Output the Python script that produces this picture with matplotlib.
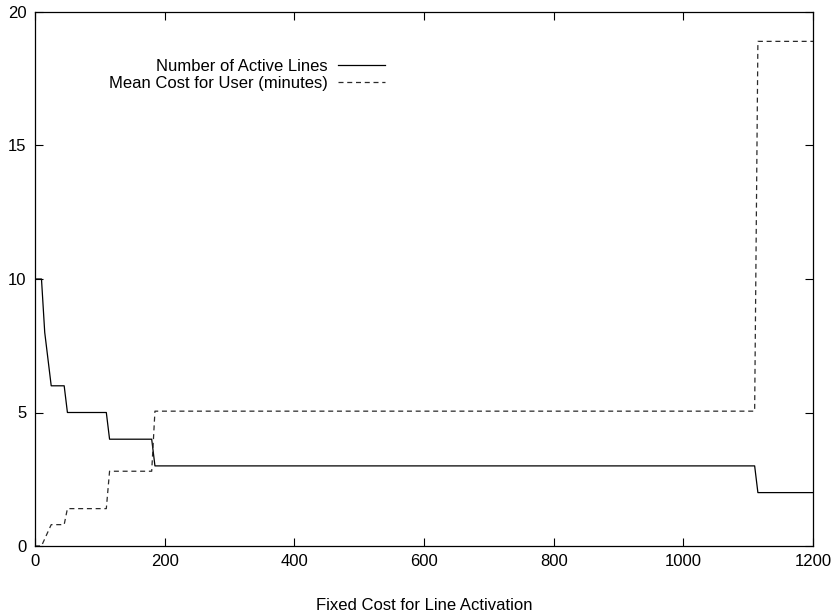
import numpy as np
import matplotlib
matplotlib.use("Agg")
import matplotlib.pyplot as plt

plt.rcParams["font.family"] = ["Liberation Sans", "DejaVu Sans"]

# fixed cost values and the two step series
cost_lines = [0, 10, 15, 25, 45, 50, 110, 115, 180, 185, 1110, 1115, 1200]
active_lines = [10, 10, 8, 6, 6, 5, 5, 4, 4, 3, 3, 2, 2]

cost_user = [0, 10, 25, 45, 50, 110, 115, 180, 185, 1110, 1115, 1200]
mean_cost = [0, 0, 0.8, 0.8, 1.4, 1.4, 2.8, 2.8, 5.05, 5.05, 18.9, 18.9]

fig = plt.figure(figsize=(8.35, 6.15), dpi=100)
ax = fig.add_axes([35 / 835, 1 - 546 / 615, 778 / 835, 534 / 615])

ax.plot(cost_lines, active_lines, color="black", lw=0.9, label="Number of Active Lines")
ax.plot(cost_user, mean_cost, color="#2a2a2a", lw=0.9, linestyle=(0, (4, 3)),
        label="Mean Cost for User (minutes)")

ax.set_xlim(0, 1200)
ax.set_ylim(0, 20)
ax.set_xticks(np.arange(0, 1201, 200))
ax.set_yticks(np.arange(0, 21, 5))
ax.tick_params(direction="in", length=5.5, width=0.8, top=True, right=True,
               labelsize=12, pad=6)
for s in ax.spines.values():
    s.set_linewidth(0.9)

ax.set_xlabel("Fixed Cost for Line Activation", fontsize=12, labelpad=21)

ax.legend(loc="upper right", bbox_to_anchor=(0.45, 0.912), frameon=False,
          markerfirst=False, fontsize=12, handlelength=2.8, handletextpad=0.66,
          labelspacing=0.1, borderpad=0, borderaxespad=0)

fig.savefig("out.png", dpi=100)
